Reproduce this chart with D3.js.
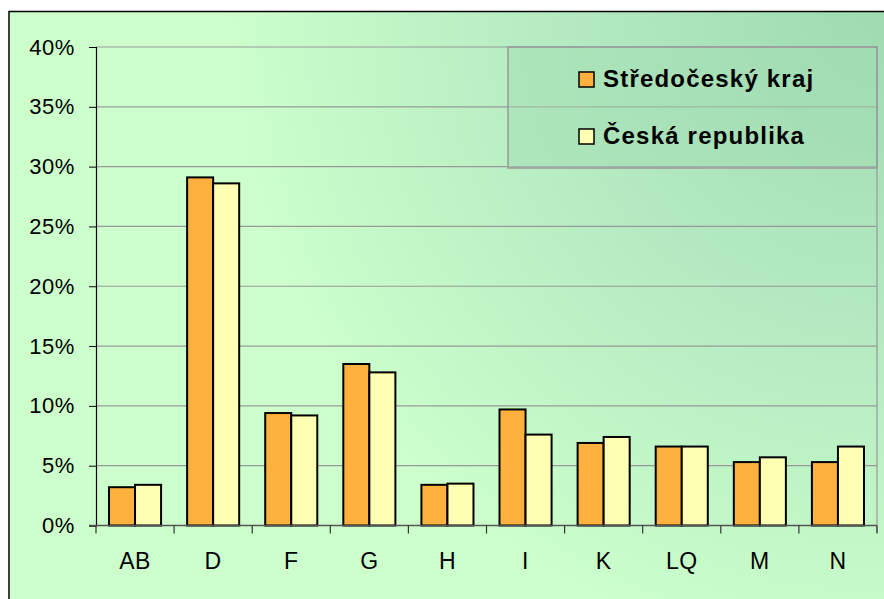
<!DOCTYPE html>
<html>
<head>
<meta charset="utf-8">
<script src="https://cdn.jsdelivr.net/npm/d3@7"></script>
<style>
  body { margin: 0; background: #fff; }
  svg { display: block; font-family: "Liberation Sans", Arial, sans-serif; }
</style>
</head>
<body>
<div id="chart"></div>
<script>
const categories = ["AB", "D", "F", "G", "H", "I", "K", "LQ", "M", "N"];
const series = ["Středočeský kraj", "Česká republika"];
const kraj = [0.032, 0.291, 0.094, 0.135, 0.034, 0.097, 0.069, 0.066, 0.053, 0.053];
const cr = [0.034, 0.286, 0.092, 0.128, 0.035, 0.076, 0.074, 0.066, 0.057, 0.066];
const yTicks = [0, 0.05, 0.1, 0.15, 0.2, 0.25, 0.3, 0.35, 0.4];
const colors = ["#ffb13f", "#ffffb3"];

const W = 884, H = 599;
const plot = { left: 96, right: 877, top: 47, bottom: 525.5 };

const svg = d3.select("#chart")
    .append("svg")
    .attr("width", W)
    .attr("height", H);

const defs = svg.append("defs");
const grad = defs.append("radialGradient")
    .attr("id", "bg")
    .attr("gradientUnits", "userSpaceOnUse")
    .attr("cx", 884).attr("cy", 11).attr("r", 660);
grad.append("stop").attr("offset", 0).style("stop-color", "#9fdab0");
grad.append("stop").attr("offset", 0.45).style("stop-color", "#b2e9c0");
grad.append("stop").attr("offset", 1).style("stop-color", "#ccffcc");

// chart area with border
svg.append("rect")
    .attr("x", 9).attr("y", 11.5)
    .attr("width", W + 10).attr("height", H)
    .attr("fill", "url(#bg)")
    .attr("stroke", "#000")
    .attr("stroke-width", 1.5);

const x = d3.scaleBand().domain(categories).range([plot.left, plot.right]);
const xs = d3.scaleBand().domain(series).range([0, x.bandwidth()]).paddingOuter(0.5);
const y = d3.scaleLinear().domain([0, 0.4]).range([plot.bottom, plot.top]);

// gridlines
svg.append("g")
    .selectAll("line")
    .data(yTicks.filter(t => t > 0))
    .join("line")
    .attr("x1", plot.left).attr("x2", plot.right)
    .attr("y1", d => y(d)).attr("y2", d => y(d))
    .attr("stroke", "#999").attr("stroke-width", 1.2);

// right border of plot area
svg.append("line")
    .attr("x1", plot.right).attr("x2", plot.right)
    .attr("y1", plot.top).attr("y2", plot.bottom + 7)
    .attr("stroke", "#999").attr("stroke-width", 1.2);

// bars
const rows = categories.map((c, i) => ({ c, vals: [kraj[i], cr[i]] }));
svg.append("g")
    .selectAll("g")
    .data(rows)
    .join("g")
    .attr("transform", d => `translate(${x(d.c)},0)`)
    .selectAll("rect")
    .data(d => d.vals.map((v, j) => ({ s: series[j], v, j })))
    .join("rect")
    .attr("x", d => xs(d.s))
    .attr("width", xs.bandwidth())
    .attr("y", d => y(d.v))
    .attr("height", d => y(0) - y(d.v))
    .attr("fill", d => colors[d.j])
    .attr("stroke", "#000")
    .attr("stroke-width", 2);

// y axis
const yAxis = svg.append("g")
    .attr("transform", `translate(${plot.left},0)`)
    .call(d3.axisLeft(y).tickValues(yTicks).tickFormat(d3.format(".0%")).tickSize(7).tickPadding(14));
yAxis.select(".domain").attr("stroke", "#000").attr("stroke-width", 1.2);
yAxis.selectAll(".tick line").attr("stroke", "#000");
yAxis.selectAll("text")
    .attr("font-size", 22)
    .attr("letter-spacing", 0.6)
    .attr("fill", "#000");

// x axis
const edges = categories.map(c => x(c)).concat([plot.right]);
svg.append("line")
    .attr("x1", plot.left - 7).attr("x2", plot.right)
    .attr("y1", plot.bottom).attr("y2", plot.bottom)
    .attr("stroke", "#555").attr("stroke-width", 1.5);
svg.append("g")
    .selectAll("line")
    .data(edges)
    .join("line")
    .attr("x1", d => d).attr("x2", d => d)
    .attr("y1", plot.bottom).attr("y2", plot.bottom + 8)
    .attr("stroke", "#333").attr("stroke-width", 1.2);
svg.append("g")
    .selectAll("text")
    .data(categories)
    .join("text")
    .attr("x", d => x(d) + x.bandwidth() / 2)
    .attr("y", 569)
    .attr("text-anchor", "middle")
    .attr("font-size", 23)
    .attr("letter-spacing", 0.5)
    .text(d => d);

// legend
const lg = svg.append("g");
lg.append("rect")
    .attr("x", 508).attr("y", 47)
    .attr("width", plot.right - 508).attr("height", 121)
    .attr("fill", "#a2dcb2").attr("fill-opacity", 0.45)
    .attr("stroke", "#999").attr("stroke-width", 1.5);
const items = lg.selectAll("g.item")
    .data(series)
    .join("g")
    .attr("class", "item")
    .attr("transform", (d, i) => `translate(579,${79 + i * 57})`);
items.append("rect")
    .attr("x", 0).attr("y", -7)
    .attr("width", 15).attr("height", 15)
    .attr("fill", (d, i) => colors[i])
    .attr("stroke", "#000").attr("stroke-width", 1.5);
items.append("text")
    .attr("x", 24).attr("y", 8)
    .attr("font-size", 24)
    .attr("font-weight", "bold")
    .attr("letter-spacing", 1.2)
    .text(d => d);
</script>
</body>
</html>
